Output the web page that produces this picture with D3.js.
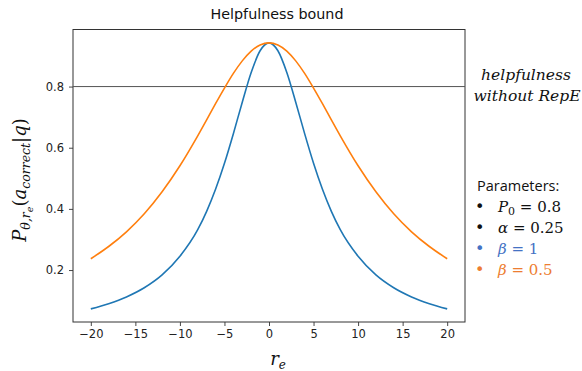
<!DOCTYPE html>
<html>
<head>
<meta charset="utf-8">
<script src="https://cdn.jsdelivr.net/npm/d3@7/dist/d3.min.js"></script>
<style>
  html, body { margin: 0; padding: 0; background: #fff; }
  svg { display: block; }
</style>
</head>
<body>
<svg id="chart" width="582" height="371"></svg>
<script>
// Steering strength r_e and the probability of a correct answer for two β values
const rValues = [-20, -18, -16, -14, -12, -10, -8, -7, -6, -5, -4, -3, -2, -1, 0,
                 1, 2, 3, 4, 5, 6, 7, 8, 10, 12, 14, 16, 18, 20];
const betaOne = [0.073, 0.090, 0.112, 0.142, 0.184, 0.245, 0.332, 0.392, 0.464, 0.549, 0.646, 0.749, 0.846, 0.917, 0.943,
                 0.917, 0.846, 0.749, 0.646, 0.549, 0.464, 0.392, 0.332, 0.245, 0.184, 0.142, 0.112, 0.090, 0.073];
const betaHalf = [0.237, 0.277, 0.325, 0.384, 0.456, 0.541, 0.639, 0.691, 0.744, 0.795, 0.843, 0.884, 0.916, 0.936, 0.943,
                  0.936, 0.916, 0.884, 0.843, 0.795, 0.744, 0.691, 0.639, 0.541, 0.456, 0.384, 0.325, 0.277, 0.237];
const baseline = 0.8;
const xTicks = [-20, -15, -10, -5, 0, 5, 10, 15, 20];
const yTicks = [0.2, 0.4, 0.6, 0.8];

const seriesColors = ["#1f77b4", "#ff7f0e"];

const svg = d3.select("#chart");
const plot = { left: 73, right: 465, top: 29.5, bottom: 322 };

const x = d3.scaleLinear().domain([-22, 22]).range([plot.left, plot.right]);
const y = d3.scaleLinear().domain([0.0301, 0.9866]).range([plot.bottom, plot.top]);

// Axes
const fmtX = d => (d < 0 ? "\u2212" + Math.abs(d) : String(d));
const xAxis = svg.append("g")
  .attr("transform", `translate(0,${plot.bottom})`)
  .call(d3.axisBottom(x).tickValues(xTicks).tickFormat(fmtX).tickSizeOuter(0).tickSize(4).tickPadding(4));
const yAxis = svg.append("g")
  .attr("transform", `translate(${plot.left},0)`)
  .call(d3.axisLeft(y).tickValues(yTicks).tickFormat(d3.format(".1f")).tickSizeOuter(0).tickSize(4).tickPadding(5));
[xAxis, yAxis].forEach(g => {
  g.select(".domain").remove();
  g.selectAll("line").attr("stroke", "#333").attr("stroke-width", 0.9);
  g.selectAll("text").attr("fill", "#222").style("font-family", "DejaVu Sans").style("font-size", "11.5px");
});

// Frame
svg.append("rect")
  .attr("x", plot.left).attr("y", plot.top)
  .attr("width", plot.right - plot.left).attr("height", plot.bottom - plot.top)
  .attr("fill", "none").attr("stroke", "#333").attr("stroke-width", 1);

// Reference level: helpfulness without RepE
svg.append("line")
  .attr("x1", plot.left).attr("x2", plot.right)
  .attr("y1", y(baseline)).attr("y2", y(baseline))
  .attr("stroke", "#555").attr("stroke-width", 1);

// Curves
const line = d3.line()
  .x(d => x(d[0]))
  .y(d => y(d[1]))
  .curve(d3.curveMonotoneX);

[betaOne, betaHalf].forEach((vals, i) => {
  svg.append("path")
    .datum(rValues.map((r, j) => [r, vals[j]]))
    .attr("d", line)
    .attr("fill", "none")
    .attr("stroke", seriesColors[i])
    .attr("stroke-width", 1.6);
});

// Title
svg.append("text")
  .attr("x", 277).attr("y", 19)
  .attr("text-anchor", "middle")
  .style("font-family", "DejaVu Sans").style("font-size", "14.3px")
  .attr("fill", "#111")
  .text("Helpfulness bound");

// X label: r_e
const xl = svg.append("text")
  .attr("x", 278).attr("y", 365)
  .attr("text-anchor", "middle")
  .style("font-family", "DejaVu Serif").style("font-style", "italic").style("font-size", "18px")
  .attr("fill", "#111");
xl.append("tspan").text("r");
xl.append("tspan").attr("dy", 4).style("font-size", "12px").text("e");

// Y label: P_{θ,r_e}(a_correct | q)
const yl = svg.append("text")
  .attr("transform", "translate(26,180) rotate(-90)")
  .attr("text-anchor", "middle")
  .style("font-family", "DejaVu Serif").style("font-style", "italic").style("font-size", "18px")
  .attr("fill", "#111");
yl.append("tspan").text("P");
yl.append("tspan").attr("dy", 4).style("font-size", "12.5px").text("\u03b8,r");
yl.append("tspan").attr("dy", 3).style("font-size", "9.5px").text("e");
yl.append("tspan").attr("dy", -7).style("font-style", "normal").text("(");
yl.append("tspan").text("a");
yl.append("tspan").attr("dy", 4).style("font-size", "12.5px").text("correct");
yl.append("tspan").attr("dy", -4).style("font-style", "normal").text("|");
yl.append("tspan").text("q");
yl.append("tspan").style("font-style", "normal").text(")");

// Annotation for the reference level
const note = svg.append("g")
  .style("font-family", "DejaVu Serif").style("font-style", "italic").style("font-size", "15.5px")
  .attr("fill", "#111");
note.append("text").attr("x", 526).attr("y", 80).attr("text-anchor", "middle").text("helpfulness");
note.append("text").attr("x", 527).attr("y", 101).attr("text-anchor", "middle").text("without RepE");

// Parameter list
svg.append("text")
  .attr("x", 477).attr("y", 191)
  .style("font-family", "Open Sans").style("font-size", "14.5px")
  .attr("fill", "#111")
  .text("Parameters:");

const params = [
  { sym: "P", sub: "0", val: " = 0.8", color: "#111" },
  { sym: "\u03b1", sub: "", val: " = 0.25", color: "#111" },
  { sym: "\u03b2", sub: "", val: " = 1", color: "#4472c4" },
  { sym: "\u03b2", sub: "", val: " = 0.5", color: "#ed7d31" }
];
const rowY = [212, 233, 254, 275];
params.forEach((p, i) => {
  svg.append("text")
    .attr("x", 475).attr("y", rowY[i])
    .style("font-family", "DejaVu Sans").style("font-size", "16px")
    .attr("fill", p.color)
    .text("\u2022");
  const t = svg.append("text")
    .attr("x", 498).attr("y", rowY[i])
    .style("font-family", "DejaVu Serif").style("font-size", "15px")
    .attr("fill", p.color);
  t.append("tspan").style("font-style", "italic").text(p.sym);
  if (p.sub) t.append("tspan").attr("dy", 3).style("font-size", "11px").text(p.sub);
  t.append("tspan").attr("dy", p.sub ? -3 : 0).text(p.val);
});
</script>
</body>
</html>
